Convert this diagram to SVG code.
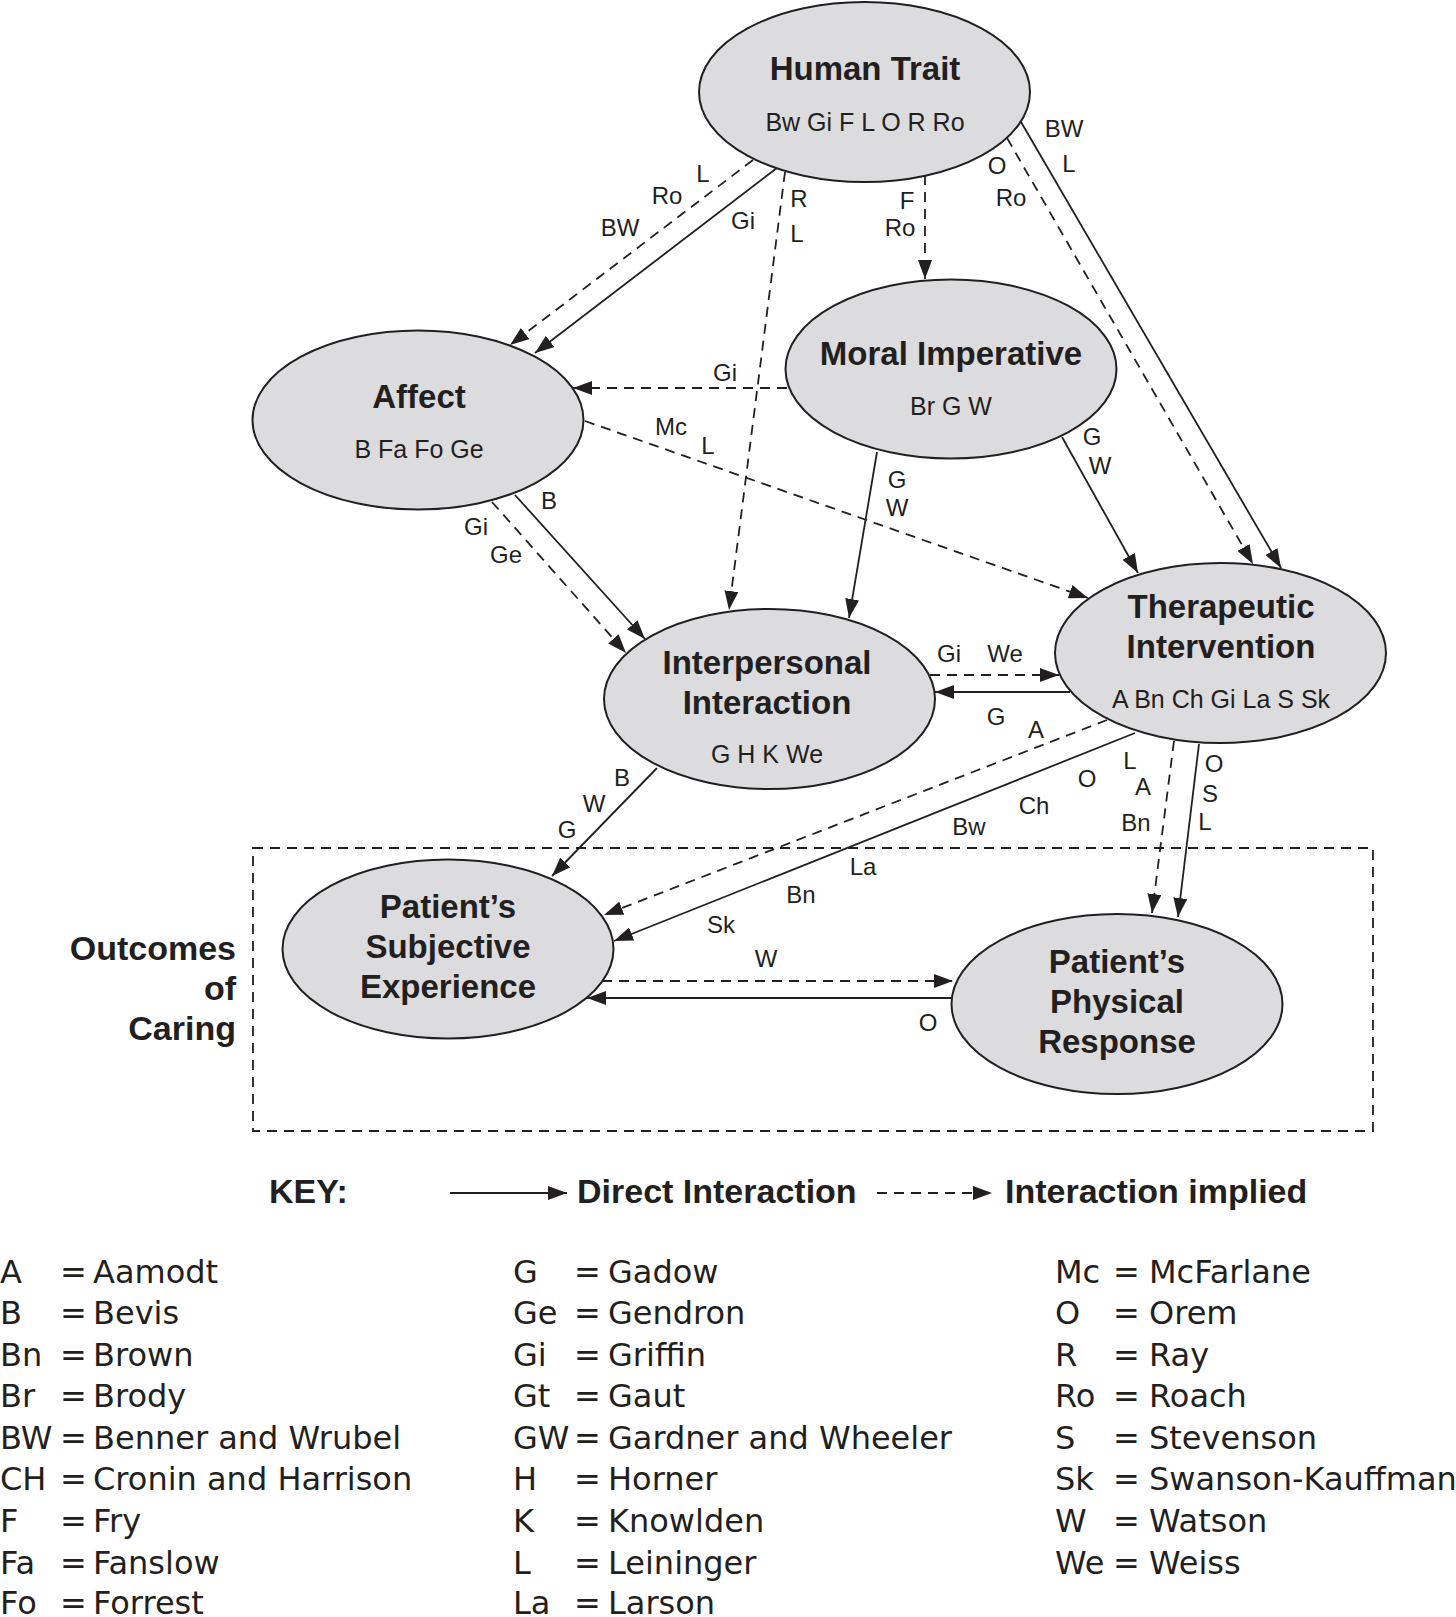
<svg xmlns="http://www.w3.org/2000/svg" width="1456" height="1617" viewBox="0 0 1456 1617">
<style>
.node ellipse{fill:#dcdcde;stroke:#231f20;stroke-width:2}
.title{font-family:"Liberation Sans",Arial,sans-serif;font-weight:bold;font-size:33px;fill:#231f20;text-anchor:middle}
.sub{font-family:"Liberation Sans",Arial,sans-serif;font-size:25px;fill:#231f20;text-anchor:middle}
.lab{font-family:"Liberation Sans",Arial,sans-serif;font-size:24px;fill:#231f20;text-anchor:middle}
.c{fill:none;stroke:#231f20;stroke-width:1.8}
.solid{marker-end:url(#ah)}
.dash{stroke-dasharray:10 7;marker-end:url(#ah)}
.key{font-family:"Liberation Sans",Arial,sans-serif;font-weight:bold;font-size:34px;fill:#231f20}
.leg{font-family:"DejaVu Sans",sans-serif;font-size:32px;fill:#231f20}
.box{fill:none;stroke:#231f20;stroke-width:1.8;stroke-dasharray:10 7}
</style>
<defs>
<marker id="ah" viewBox="0 0 19 14" refX="19" refY="7" markerWidth="19" markerHeight="14" markerUnits="userSpaceOnUse" orient="auto">
<path d="M0,0 L19,7 L0,14 z" fill="#231f20"/>
</marker>
</defs>
<rect width="1456" height="1617" fill="#ffffff"/>

<g id="outcomes">
<rect class="box" x="253" y="848" width="1120" height="283"/>
<text class="key" text-anchor="end" x="236" y="960">Outcomes</text>
<text class="key" text-anchor="end" x="236" y="1000">of</text>
<text class="key" text-anchor="end" x="236" y="1040">Caring</text>
</g>

<g id="human-trait" class="node">
<ellipse cx="864.5" cy="92" rx="165.5" ry="90"/>
<text class="title" x="865" y="80">Human Trait</text>
<text class="sub" x="865" y="131">Bw Gi F L O R Ro</text>
</g>
<g id="moral-imperative" class="node">
<ellipse cx="951" cy="369" rx="165.5" ry="89.5"/>
<text class="title" x="951" y="365">Moral Imperative</text>
<text class="sub" x="951" y="415">Br G W</text>
</g>
<g id="affect" class="node">
<ellipse cx="418" cy="420" rx="165.5" ry="89.5"/>
<text class="title" x="419" y="408">Affect</text>
<text class="sub" x="419" y="458">B Fa Fo Ge</text>
</g>
<g id="interpersonal-interaction" class="node">
<ellipse cx="769.5" cy="699" rx="165.5" ry="90"/>
<text class="title" x="767" y="674">Interpersonal</text>
<text class="title" x="767" y="714">Interaction</text>
<text class="sub" x="767" y="763">G H K We</text>
</g>
<g id="therapeutic-intervention" class="node">
<ellipse cx="1220.5" cy="653" rx="165.5" ry="90"/>
<text class="title" x="1221" y="618">Therapeutic</text>
<text class="title" x="1221" y="658">Intervention</text>
<text class="sub" x="1221" y="708">A Bn Ch Gi La S Sk</text>
</g>
<g id="patients-subjective-experience" class="node">
<ellipse cx="448" cy="949" rx="165.5" ry="89.5"/>
<text class="title" x="448" y="918">Patient’s</text>
<text class="title" x="448" y="958">Subjective</text>
<text class="title" x="448" y="998">Experience</text>
</g>
<g id="patients-physical-response" class="node">
<ellipse cx="1117" cy="1004" rx="165.5" ry="90"/>
<text class="title" x="1117" y="973">Patient’s</text>
<text class="title" x="1117" y="1013">Physical</text>
<text class="title" x="1117" y="1053">Response</text>
</g>

<g id="connectors">
<line class="c dash" x1="753" y1="160" x2="510" y2="345"/>
<line class="c solid" x1="777" y1="168" x2="535" y2="353"/>
<line class="c dash" x1="785" y1="172" x2="729" y2="610"/>
<line class="c dash" x1="925" y1="175" x2="925" y2="279"/>
<line class="c dash" x1="1007" y1="138" x2="1253" y2="564"/>
<line class="c solid" x1="1021" y1="122" x2="1281" y2="568"/>
<line class="c dash" x1="787" y1="388" x2="573" y2="388"/>
<line class="c dash" x1="585" y1="421" x2="1088" y2="598"/>
<line class="c solid" x1="877" y1="452" x2="849" y2="618"/>
<line class="c solid" x1="1062" y1="437" x2="1138" y2="573"/>
<line class="c solid" x1="515" y1="495" x2="645" y2="639"/>
<line class="c dash" x1="492" y1="502" x2="626" y2="653"/>
<line class="c dash" x1="930" y1="675" x2="1059" y2="675"/>
<line class="c solid" x1="1070" y1="692" x2="935" y2="692"/>
<line class="c solid" x1="657" y1="768" x2="552" y2="876"/>
<line class="c dash" x1="1107" y1="720" x2="604" y2="915"/>
<line class="c solid" x1="1135" y1="733" x2="614" y2="941"/>
<line class="c dash" x1="1174" y1="741" x2="1152" y2="913"/>
<line class="c solid" x1="1199" y1="744" x2="1178" y2="917"/>
<line class="c dash" x1="602" y1="981" x2="953" y2="981"/>
<line class="c solid" x1="951" y1="998" x2="587" y2="998"/>

<g id="connector-labels">
<text class="lab" x="703" y="182">L</text>
<text class="lab" x="667" y="204">Ro</text>
<text class="lab" x="620" y="236">BW</text>
<text class="lab" x="743" y="229">Gi</text>
<text class="lab" x="799" y="207">R</text>
<text class="lab" x="797" y="242">L</text>
<text class="lab" x="907" y="209">F</text>
<text class="lab" x="900" y="236">Ro</text>
<text class="lab" x="997" y="174">O</text>
<text class="lab" x="1011" y="206">Ro</text>
<text class="lab" x="1064" y="137">BW</text>
<text class="lab" x="1069" y="172">L</text>
<text class="lab" x="725" y="381">Gi</text>
<text class="lab" x="671" y="435">Mc</text>
<text class="lab" x="708" y="454">L</text>
<text class="lab" x="897" y="488">G</text>
<text class="lab" x="897" y="516">W</text>
<text class="lab" x="1092" y="445">G</text>
<text class="lab" x="1100" y="474">W</text>
<text class="lab" x="549" y="509">B</text>
<text class="lab" x="476" y="535">Gi</text>
<text class="lab" x="506" y="563">Ge</text>
<text class="lab" x="949" y="662">Gi</text>
<text class="lab" x="1005" y="662">We</text>
<text class="lab" x="996" y="725">G</text>
<text class="lab" x="622" y="786">B</text>
<text class="lab" x="594" y="812">W</text>
<text class="lab" x="567" y="838">G</text>
<text class="lab" x="1036" y="738">A</text>
<text class="lab" x="1087" y="787">O</text>
<text class="lab" x="1034" y="814">Ch</text>
<text class="lab" x="969" y="835">Bw</text>
<text class="lab" x="863" y="875">La</text>
<text class="lab" x="801" y="903">Bn</text>
<text class="lab" x="721" y="933">Sk</text>
<text class="lab" x="1130" y="769">L</text>
<text class="lab" x="1143" y="795">A</text>
<text class="lab" x="1136" y="831">Bn</text>
<text class="lab" x="1214" y="772">O</text>
<text class="lab" x="1210" y="802">S</text>
<text class="lab" x="1205" y="830">L</text>
<text class="lab" x="766" y="967">W</text>
<text class="lab" x="928" y="1031">O</text>
</g>
</g>

<g id="key">
<text class="key" font-size="32" x="269" y="1203">KEY:</text>
<line class="c solid" stroke-width="2.4" x1="450" y1="1193" x2="567" y2="1193"/>
<text class="key" x="577" y="1203">Direct Interaction</text>
<line class="c dash" stroke-width="2" x1="877" y1="1193" x2="992" y2="1193"/>
<text class="key" x="1005" y="1203">Interaction implied</text>
</g>

<g id="legend" class="leg">
<text x="0" y="1283">A</text><text x="60" y="1283">=</text><text x="93" y="1283">Aamodt</text>
<text x="0" y="1324">B</text><text x="60" y="1324">=</text><text x="93" y="1324">Bevis</text>
<text x="0" y="1366">Bn</text><text x="60" y="1366">=</text><text x="93" y="1366">Brown</text>
<text x="0" y="1407">Br</text><text x="60" y="1407">=</text><text x="93" y="1407">Brody</text>
<text x="0" y="1449">BW</text><text x="60" y="1449">=</text><text x="93" y="1449">Benner and Wrubel</text>
<text x="0" y="1490">CH</text><text x="60" y="1490">=</text><text x="93" y="1490">Cronin and Harrison</text>
<text x="0" y="1532">F</text><text x="60" y="1532">=</text><text x="93" y="1532">Fry</text>
<text x="0" y="1574">Fa</text><text x="60" y="1574">=</text><text x="93" y="1574">Fanslow</text>
<text x="0" y="1614">Fo</text><text x="60" y="1614">=</text><text x="93" y="1614">Forrest</text>

<text x="513" y="1283">G</text><text x="574" y="1283">=</text><text x="608" y="1283">Gadow</text>
<text x="513" y="1324">Ge</text><text x="574" y="1324">=</text><text x="608" y="1324">Gendron</text>
<text x="513" y="1366">Gi</text><text x="574" y="1366">=</text><text x="608" y="1366">Griffin</text>
<text x="513" y="1407">Gt</text><text x="574" y="1407">=</text><text x="608" y="1407">Gaut</text>
<text x="513" y="1449">GW</text><text x="574" y="1449">=</text><text x="608" y="1449">Gardner and Wheeler</text>
<text x="513" y="1490">H</text><text x="574" y="1490">=</text><text x="608" y="1490">Horner</text>
<text x="513" y="1532">K</text><text x="574" y="1532">=</text><text x="608" y="1532">Knowlden</text>
<text x="513" y="1574">L</text><text x="574" y="1574">=</text><text x="608" y="1574">Leininger</text>
<text x="513" y="1614">La</text><text x="574" y="1614">=</text><text x="608" y="1614">Larson</text>

<text x="1055" y="1283">Mc</text><text x="1113" y="1283">=</text><text x="1149" y="1283">McFarlane</text>
<text x="1055" y="1324">O</text><text x="1113" y="1324">=</text><text x="1149" y="1324">Orem</text>
<text x="1055" y="1366">R</text><text x="1113" y="1366">=</text><text x="1149" y="1366">Ray</text>
<text x="1055" y="1407">Ro</text><text x="1113" y="1407">=</text><text x="1149" y="1407">Roach</text>
<text x="1055" y="1449">S</text><text x="1113" y="1449">=</text><text x="1149" y="1449">Stevenson</text>
<text x="1055" y="1490">Sk</text><text x="1113" y="1490">=</text><text x="1149" y="1490">Swanson-Kauffman</text>
<text x="1055" y="1532">W</text><text x="1113" y="1532">=</text><text x="1149" y="1532">Watson</text>
<text x="1055" y="1574">We</text><text x="1113" y="1574">=</text><text x="1149" y="1574">Weiss</text>
</g>
</svg>
